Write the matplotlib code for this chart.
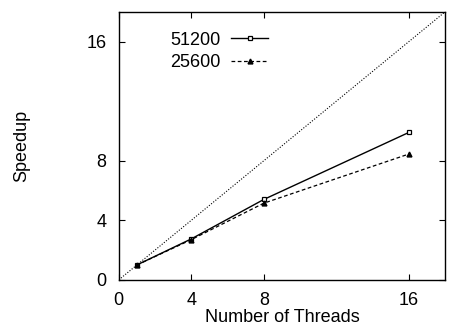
import matplotlib
matplotlib.use("Agg")
import matplotlib.pyplot as plt

# Data
threads = [1, 4, 8, 16]
speedup_51200 = [1.0, 2.75, 5.4, 9.9]
speedup_25600 = [1.0, 2.7, 5.15, 8.45]
ideal = [0, 18]

plt.rcParams['font.family'] = ['Liberation Sans', 'DejaVu Sans']
plt.rcParams['font.size'] = 13

fig = plt.figure(figsize=(4.5, 3.3), dpi=100)
ax = fig.add_axes([0.264, 0.152, 0.725, 0.812])

ax.plot(ideal, ideal, color='black', linestyle=(0, (1, 1.5)), linewidth=0.8)
ax.plot(threads, speedup_51200, color='black', linewidth=1.0,
        marker='s', markersize=3.5, markerfacecolor='white', markeredgewidth=0.9,
        label='51200')
ax.plot(threads, speedup_25600, color='black', linewidth=0.9,
        linestyle=(0, (3, 2)), marker='^', markersize=3.5, label='25600')

ax.set_xlim(0, 18)
ax.set_ylim(0, 18)
ax.set_xticks([0, 4, 8, 16])
ax.set_yticks([0, 4, 8, 16])
ax.tick_params(direction='in', top=True, right=True, length=4, width=0.8)
ax.tick_params(axis='x', pad=9)
ax.tick_params(axis='y', pad=9)
ax.set_xlabel('Number of Threads', labelpad=0)
ax.set_ylabel('Speedup', labelpad=40)
for s in ax.spines.values():
    s.set_linewidth(1.0)

ax.legend(loc='upper left', bbox_to_anchor=(0.13, 0.96), frameon=False,
          markerfirst=False, handlelength=2.0, handletextpad=0.6,
          labelspacing=0.3, borderpad=0)

fig.savefig('out.png', dpi=100)
